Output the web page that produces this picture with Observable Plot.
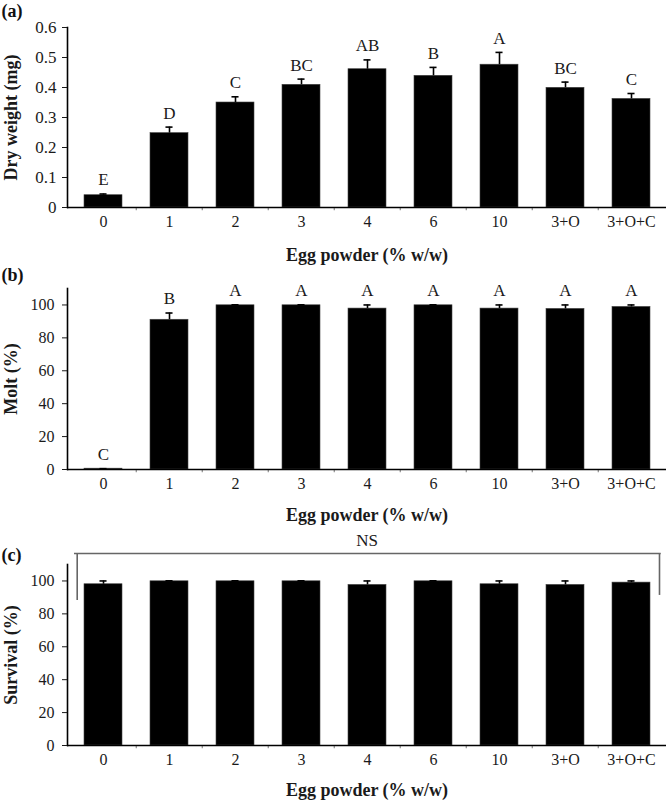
<!DOCTYPE html>
<html><head><meta charset="utf-8">
<script src="https://cdn.jsdelivr.net/npm/d3@7"></script>
<script src="https://cdn.jsdelivr.net/npm/@observablehq/plot@0.6"></script>
<style>body{margin:0;background:#fff} #chart svg{display:block}</style>
</head><body><div id="chart"></div>
<script>
// ---- data ----
const categories = ["0","1","2","3","4","6","10","3+O","3+O+C"];
const dryWeight = [0.041,0.248,0.350,0.409,0.461,0.439,0.476,0.399,0.362];
const dryWeightErr = [0.004,0.020,0.019,0.019,0.031,0.028,0.041,0.019,0.018];
const dryWeightLetters = ["E","D","C","BC","AB","B","A","BC","C"];
const molt = [0.5,91,99.8,99.8,97.8,99.8,97.8,97.6,98.8];
const moltErr = [0,4.1,0.3,0.3,2.2,0.3,2.2,2.4,1.2];
const moltLetters = ["C","B","A","A","A","A","A","A","A"];
const survival = [98,99.8,99.8,99.8,97.6,99.8,98,97.6,99];
const survivalErr = [2,0.3,0.3,0.3,2.4,0.3,2,2.4,1];
const survivalNote = "NS";
const nsBracket = [116.7, 88.1, 91.2]; // top, left end, right end (survival units)
const dryTicks = [0,0.1,0.2,0.3,0.4,0.5,0.6];
const pctTicks = [0,20,40,60,80,100];
const xTitle = "Egg powder (% w/w)";

const W = 666, ML = 67, PI = 0.43;
const step = (W - ML) / categories.length;
const bw = step * (1 - PI);
const font = "Liberation Serif, Times New Roman, serif";

function panel(o) {
  const rows = categories.map((c, i) => ({cat: c, v: o.values[i], e: o.errs[i], l: o.letters ? o.letters[i] : ""}));
  const tickLen = (o.yDomain[1] - o.yDomain[0]) * 0.018;
  const marks = [
    Plot.barY(rows, {x: "cat", y: "v", fill: "#000", stroke: "#444", strokeWidth: 0.6}),
    Plot.ruleX(rows, {x: "cat", y1: "v", y2: d => d.v + d.e, stroke: "#000", strokeWidth: 1.6}),
    Plot.tickY(rows, {x: "cat", y: d => d.v + d.e, stroke: "#000", strokeWidth: 1.6, insetLeft: (bw - 7) / 2, insetRight: (bw - 7) / 2}),
    Plot.ruleX(categories.slice(1), {x: d => d, dx: -step / 2, y1: 0, y2: -tickLen, stroke: "#777", strokeWidth: 1}),
    Plot.ruleY([0], {stroke: "#000", strokeWidth: 1.6}),
    Plot.frame({anchor: "left", stroke: "#000", strokeWidth: 1.6}),
    Plot.axisY({ticks: o.yTicks, tickFormat: o.yFormat, tickSize: 5, tickPadding: o.tickPadding, fontSize: o.yFont, label: null, color: "#1a1a1a"}),
    Plot.axisX({tickSize: 0, tickPadding: 8, fontSize: 16, label: null, color: "#1a1a1a"}),
    Plot.text([o.yLabel], {frameAnchor: "left", dx: -56, rotate: -90, textAnchor: "middle", lineAnchor: "middle", fontWeight: "bold", fontSize: 18, fill: "#1a1a1a"}),
    Plot.text([xTitle], {frameAnchor: "bottom", dy: o.titleDy, lineAnchor: "middle", fontWeight: "bold", fontSize: 18, fill: "#1a1a1a"}),
    Plot.text([o.tag], {frameAnchor: "top-left", dx: -ML + 1, dy: o.tagDy, textAnchor: "start", lineAnchor: "middle", fontWeight: "bold", fontSize: 18, fill: "#111"})
  ];
  if (o.letters) {
    marks.push(Plot.text(rows, {x: "cat", y: d => d.v + d.e, text: "l", dy: -14, lineAnchor: "middle", fontSize: 17, fill: "#1a1a1a"}));
  }
  if (o.bracket) {
    const [top, lEnd, rEnd] = o.bracket;
    marks.push(
      Plot.ruleY([top], {stroke: "#666", strokeWidth: 1.6, insetLeft: 7, insetRight: 5.3}),
      Plot.ruleX([categories[0]], {x: d => d, dx: -26.3, y1: lEnd, y2: top, stroke: "#666", strokeWidth: 1.6}),
      Plot.ruleX([categories[categories.length - 1]], {x: d => d, dx: 28, y1: rEnd, y2: top, stroke: "#666", strokeWidth: 1.6}),
      Plot.text([o.note], {y: top, dy: -13, lineAnchor: "middle", fontSize: 17, fill: "#1a1a1a"})
    );
  }
  return Plot.plot({
    width: W, height: o.height,
    marginLeft: ML, marginRight: 0, marginTop: o.marginTop, marginBottom: o.marginBottom,
    style: {fontFamily: font, fontSize: "16px", background: "#fff", color: "#1a1a1a", overflow: "visible"},
    x: {domain: categories, paddingInner: PI, paddingOuter: PI / 2},
    y: {domain: o.yDomain},
    marks
  });
}

const chart = document.getElementById("chart");
chart.append(panel({
  values: dryWeight, errs: dryWeightErr, letters: dryWeightLetters,
  yDomain: [0, 0.6], yTicks: dryTicks, yFormat: d => d === 0 ? "0" : d.toFixed(1), yFont: 17,
  yLabel: "Dry weight (mg)", tag: "(a)", height: 265, marginTop: 27, marginBottom: 58,
  tagDy: -16, titleDy: 48, tickPadding: 6
}));
chart.append(panel({
  values: molt, errs: moltErr, letters: moltLetters,
  yDomain: [0, 110], yTicks: pctTicks, yFormat: d => String(d), yFont: 16,
  yLabel: "Molt (%)", tag: "(b)", height: 263, marginTop: 23, marginBottom: 59,
  tagDy: -13, titleDy: 46, tickPadding: 8
}));
chart.append(panel({
  values: survival, errs: survivalErr, letters: null,
  yDomain: [0, 110], yTicks: pctTicks, yFormat: d => String(d), yFont: 16,
  yLabel: "Survival (%)", tag: "(c)", height: 272, marginTop: 36, marginBottom: 55,
  tagDy: -9, titleDy: 45, tickPadding: 8, bracket: nsBracket, note: survivalNote
}));
</script>
</body></html>
